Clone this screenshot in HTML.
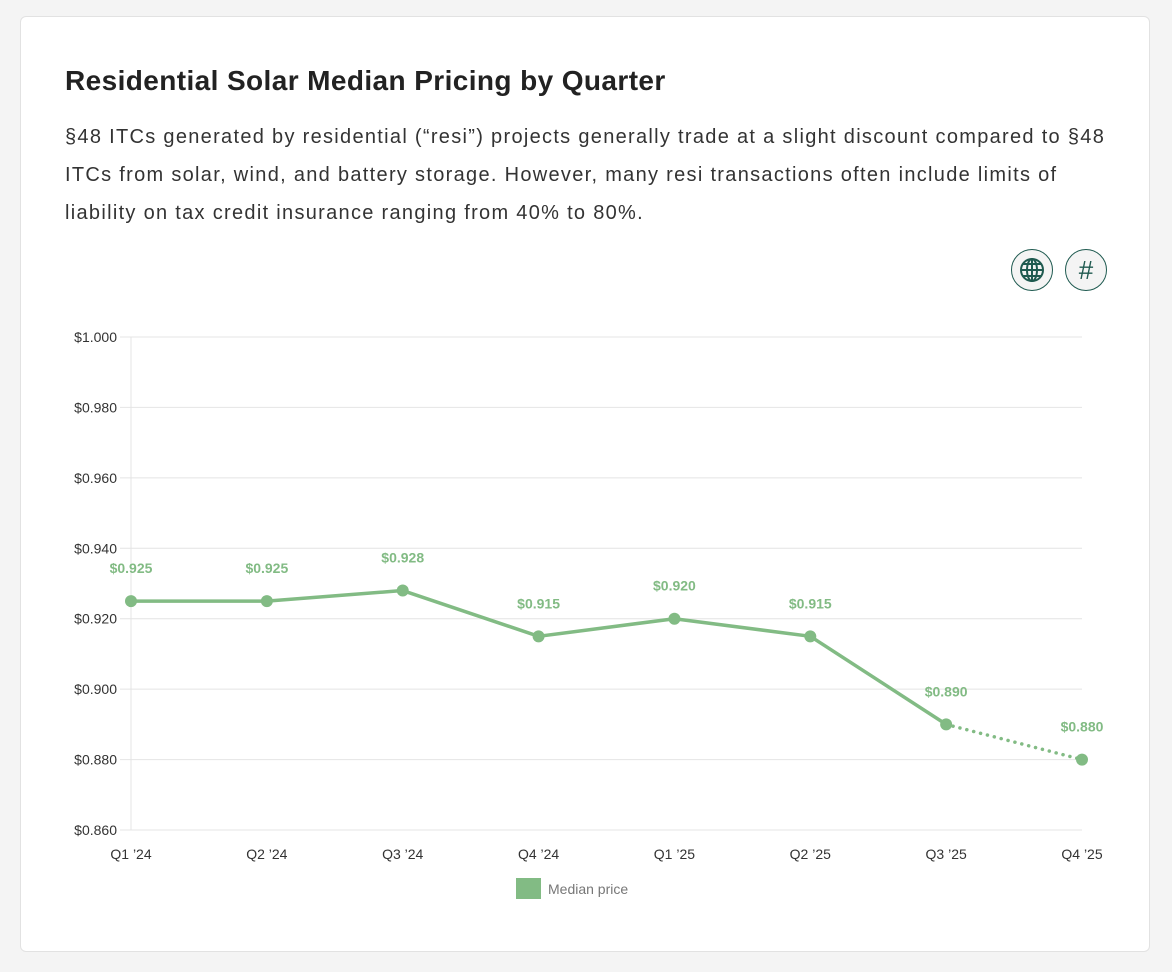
<!DOCTYPE html>
<html><head><meta charset="utf-8"><style>
body{margin:0;background:#f4f4f4;font-family:"Liberation Sans",sans-serif;}
#card{position:absolute;left:20px;top:16px;width:1128px;height:934px;background:#fff;border:1px solid #e2e2e2;border-radius:6px;}
h1{position:absolute;left:44px;top:48px;margin:0;font-size:28px;font-weight:bold;color:#222;letter-spacing:0.4px;}
p{position:absolute;left:44px;top:101px;width:1080px;margin:0;font-size:20px;line-height:38px;color:#333;white-space:nowrap;letter-spacing:1.3px;}
.ic{position:absolute;top:232px;width:40px;height:40px;border:1.5px solid #1f5a50;border-radius:50%;background:#f4f4f4;color:#1f5a50;text-align:center;line-height:40px;font-size:26px;}
svg{position:absolute;left:0;top:0;}
</style></head><body>
<div id="card">
<h1>Residential Solar Median Pricing by Quarter</h1>
<p>§48 ITCs generated by residential (“resi”) projects generally trade at a slight discount compared to §48<br>ITCs from solar, wind, and battery storage. However, many resi transactions often include limits of<br>liability on tax credit insurance ranging from 40% to 80%.</p>
<div class="ic" style="left:990px"><svg width="40" height="40" style="position:static" viewBox="0 0 40 40"><g fill="none" stroke="#1f5a50" stroke-width="2"><circle cx="20" cy="20" r="11"/><ellipse cx="20" cy="20" rx="5" ry="11"/><line x1="9" y1="20" x2="31" y2="20"/><line x1="11" y1="14" x2="29" y2="14"/><line x1="11" y1="26" x2="29" y2="26"/><line x1="20" y1="9" x2="20" y2="31"/></g></svg></div>
<div class="ic" style="left:1044px">#</div>
</div>
<svg id="chart" width="1172" height="972"></svg>
<script>
const categories=["Q1 '24","Q2 '24","Q3 '24","Q4 '24","Q1 '25","Q2 '25","Q3 '25","Q4 '25"];
const values=[0.925,0.925,0.928,0.915,0.920,0.915,0.890,0.880];
const yTicks=[0.860,0.880,0.900,0.920,0.940,0.960,0.980,1.000];
const projectedFrom=6;
const svg=document.getElementById('chart');
const NS='http://www.w3.org/2000/svg';
const x0=131,x1=1082,yTop=337,yBot=830,vMin=0.86,vMax=1.0;
const xs=i=>x0+(x1-x0)*i/(categories.length-1);
const ys=v=>yBot-(v-vMin)/(vMax-vMin)*(yBot-yTop);
function mk(t,a,txt){const e=document.createElementNS(NS,t);for(const k in a)e.setAttribute(k,a[k]);if(txt!==undefined)e.textContent=txt;svg.appendChild(e);return e;}
yTicks.forEach(v=>{
 const g=mk('line',{x1:120,x2:x1,y1:ys(v),y2:ys(v),stroke:'#e4e4e4','stroke-width':1});
 
 
 const t=mk('text',{x:117,y:ys(v)+5,'text-anchor':'end','font-size':14,fill:'#333'},'$'+v.toFixed(3));
 
 
});
const ax=mk('line',{x1:x0,x2:x0,y1:yTop,y2:yBot,stroke:'#e4e4e4'});


categories.forEach((c,i)=>{
 const t=mk('text',{x:xs(i),y:859,'text-anchor':'middle','font-size':14,fill:'#333'},c.replace("'","’"));
 
 
});
let d='';for(let i=0;i<=projectedFrom;i++)d+=(i?'L':'M')+xs(i)+' '+ys(values[i]);
const ln=mk('path',{d:d,fill:'none',stroke:'#82bb84','stroke-width':3.5,'stroke-linejoin':'round'});


let d2='';for(let i=projectedFrom;i<values.length;i++)d2+=(i==projectedFrom?'M':'L')+xs(i)+' '+ys(values[i]);
const ln2=mk('path',{d:d2,fill:'none',stroke:'#82bb84','stroke-width':3.5,'stroke-dasharray':'0.1 7','stroke-linecap':'round'});


values.forEach((v,i)=>{
 const c=mk('circle',{cx:xs(i),cy:ys(v),r:6,fill:'#82bb84'});
 
 
 const t=mk('text',{x:xs(i),y:ys(v)-28,'text-anchor':'middle','font-size':14,'font-weight':'bold',fill:'#82bb84'},'$'+v.toFixed(3));
 
 
});
const lr=mk('rect',{x:516,y:878,width:25,height:21,fill:'#82bb84'});


const lt=mk('text',{x:548,y:894,'font-size':14,fill:'#777'},'Median price');


</script>
</body></html>
